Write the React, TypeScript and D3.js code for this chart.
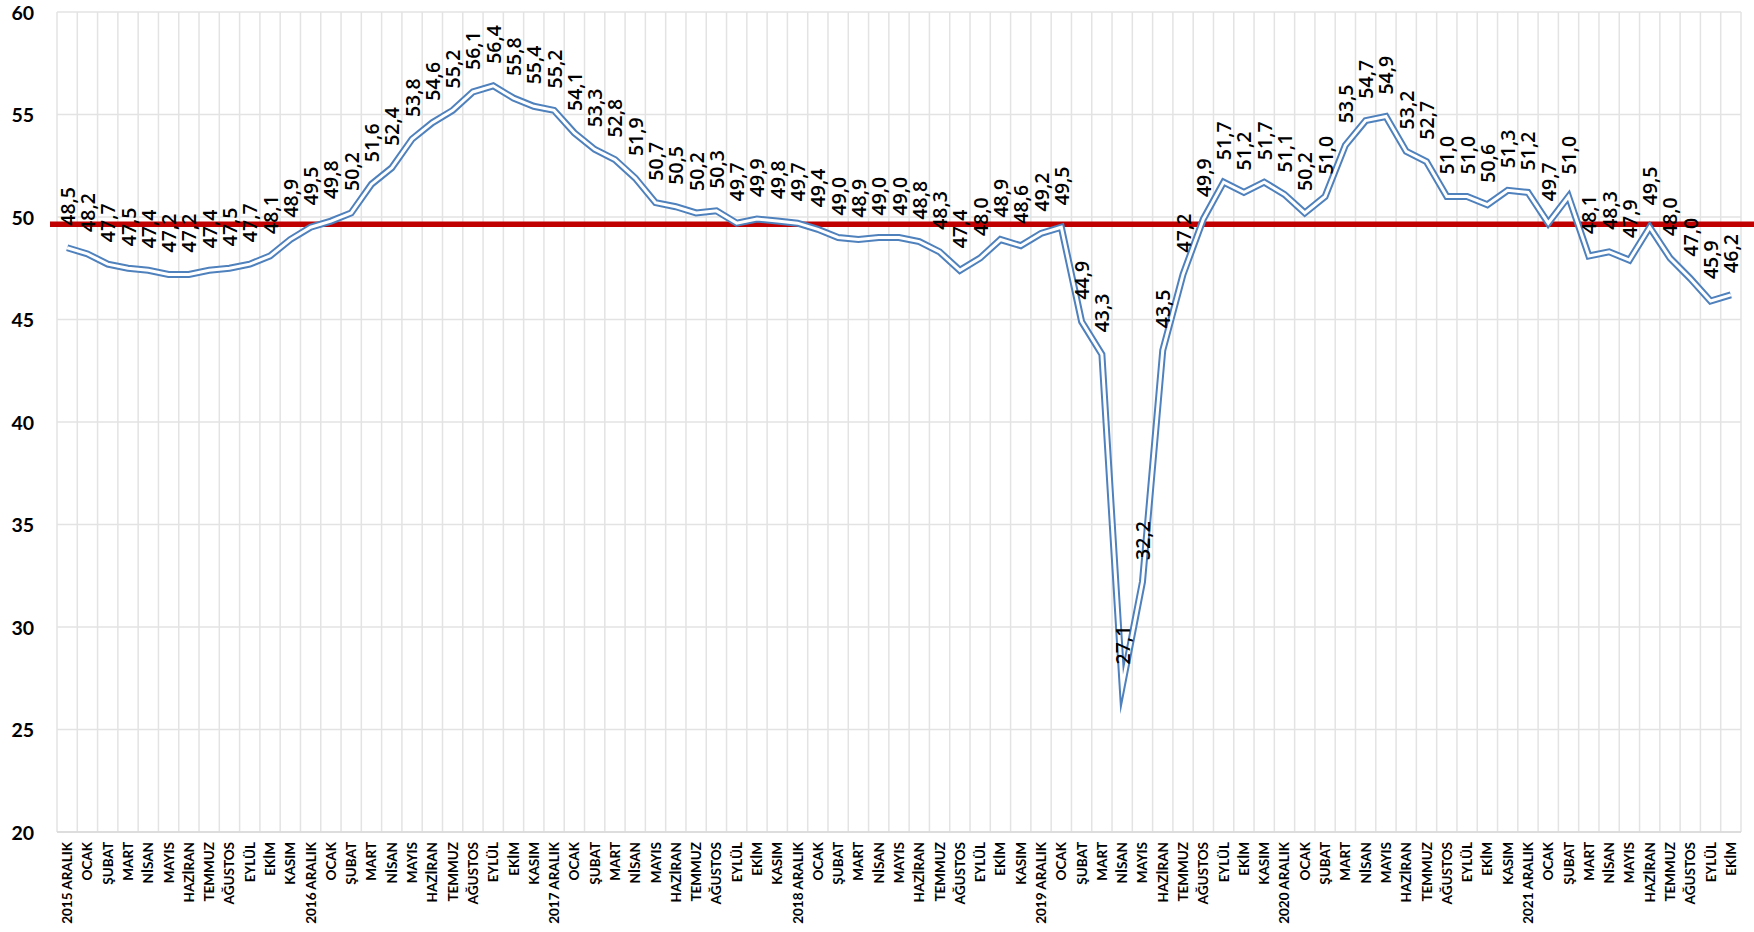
import React from 'react';
import * as d3 from 'd3';

const months = ['OCAK', 'ŞUBAT', 'MART', 'NİSAN', 'MAYIS', 'HAZİRAN', 'TEMMUZ', 'AĞUSTOS', 'EYLÜL', 'EKİM', 'KASIM'];

const categories: string[] = [
  '2015 ARALIK', ...months,
  '2016 ARALIK', ...months,
  '2017 ARALIK', ...months,
  '2018 ARALIK', ...months,
  '2019 ARALIK', ...months,
  '2020 ARALIK', ...months,
  '2021 ARALIK', 'OCAK', 'ŞUBAT', 'MART', 'NİSAN', 'MAYIS', 'HAZİRAN', 'TEMMUZ', 'AĞUSTOS', 'EYLÜL', 'EKİM',
];

const values: number[] = [
  48.5, 48.2, 47.7, 47.5, 47.4, 47.2, 47.2, 47.4, 47.5, 47.7, 48.1, 48.9,
  49.5, 49.8, 50.2, 51.6, 52.4, 53.8, 54.6, 55.2, 56.1, 56.4, 55.8, 55.4,
  55.2, 54.1, 53.3, 52.8, 51.9, 50.7, 50.5, 50.2, 50.3, 49.7, 49.9, 49.8,
  49.7, 49.4, 49.0, 48.9, 49.0, 49.0, 48.8, 48.3, 47.4, 48.0, 48.9, 48.6,
  49.2, 49.5, 44.9, 43.3, 27.1, 32.2, 43.5, 47.2, 49.9, 51.7, 51.2, 51.7,
  51.1, 50.2, 51.0, 53.5, 54.7, 54.9, 53.2, 52.7, 51.0, 51.0, 50.6, 51.3,
  51.2, 49.7, 51.0, 48.1, 48.3, 47.9, 49.5, 48.0, 47.0, 45.9, 46.2,
];

const yTicks: number[] = [20, 25, 30, 35, 40, 45, 50, 55, 60];
const REFERENCE_LEVEL = 49.65;

const W = 1754;
const H = 932;
const M = { left: 57, right: 1741, top: 12, bottom: 832 };

export default function App() {
  const idx = categories.map((_, i) => String(i));
  const x = d3.scaleBand<string>().domain(idx).range([M.left, M.right]).padding(0);
  const y = d3.scaleLinear().domain([20, 60]).range([M.bottom, M.top]);
  const cx = (i: number) => (x(String(i)) as number) + x.bandwidth() / 2;

  const line = d3
    .line<number>()
    .x((_, i) => cx(i))
    .y((d) => y(d));
  const path = line(values) || '';

  const fmt = (v: number) => v.toFixed(1).replace('.', ',');
  const boundaries = d3.range(categories.length + 1).map((i) => M.left + i * x.bandwidth());

  return (
    <svg
      width={W}
      height={H}
      style={{ position: 'absolute', left: 0, top: 0, background: '#fff' }}
      fontFamily="Lato, 'Open Sans', sans-serif"
    >
      <rect x={0} y={0} width={W} height={H} fill="#fff" />
      {yTicks.map((t) => (
        <line key={'h' + t} x1={M.left} x2={M.right} y1={y(t)} y2={y(t)} stroke="#E3E3E3" strokeWidth={1.5} />
      ))}
      {boundaries.map((bx, i) => (
        <line key={'v' + i} x1={bx} x2={bx} y1={M.top} y2={M.bottom} stroke="#E3E3E3" strokeWidth={1.5} />
      ))}
      <line x1={M.left} x2={M.right} y1={M.bottom} y2={M.bottom} stroke="#D9D9D9" strokeWidth={1.5} />

      {yTicks.map((t) => (
        <text
          key={'yl' + t}
          x={34}
          y={y(t)}
          textAnchor="end"
          dominantBaseline="central"
          fontWeight="bold"
          fontSize={19.5}
          fill="#000"
        >
          {t}
        </text>
      ))}

      {categories.map((c, i) => (
        <text
          key={'xl' + i}
          transform={`translate(${cx(i)},${M.bottom + 10}) rotate(-90)`}
          textAnchor="end"
          dominantBaseline="central"
          fontWeight="bold"
          fontSize={13.5}
          fill="#000"
        >
          {c}
        </text>
      ))}

      <line x1={50} x2={W} y1={y(REFERENCE_LEVEL)} y2={y(REFERENCE_LEVEL)} stroke="#C00000" strokeWidth={5.5} />

      <path d={path} fill="none" stroke="#4F81BD" strokeWidth={7} strokeLinejoin="miter" strokeMiterlimit={10} />
      <path d={path} fill="none" stroke="#fff" strokeWidth={3} strokeLinejoin="miter" strokeMiterlimit={10} />

      {values.map((v, i) => (
        <text
          key={'dl' + i}
          transform={`translate(${cx(i)},${y(v) - 22}) rotate(-90)`}
          textAnchor="start"
          dominantBaseline="central"
          fontFamily="'Open Sans', Lato, sans-serif"
          fontWeight={600}
          fontSize={19.5}
          fill="#000"
        >
          {fmt(v)}
        </text>
      ))}
    </svg>
  );
}
